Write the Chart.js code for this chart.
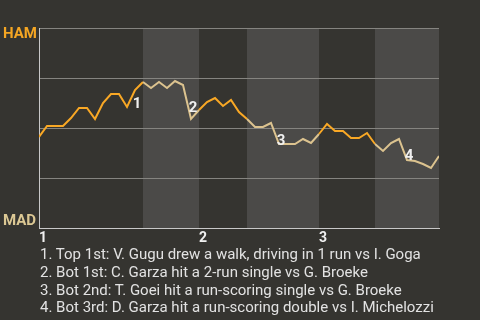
<!DOCTYPE html>
<html>
<head>
<meta charset="utf-8">
<script src="https://cdn.jsdelivr.net/npm/chart.js@4"></script>
<style>
  html, body { margin: 0; padding: 0; background: #353430; }
  #wrap { position: relative; width: 480px; height: 320px; overflow: hidden; font-family: Roboto, sans-serif; }
  canvas { position: absolute; left: 0; top: 0; }
  .team { position: absolute; left: 3px; font-weight: bold; font-size: 15px; line-height: 16px; }
  #ham { top: 25px; color: #f5a623; }
  #mad { top: 212px; color: #dcc894; }
  #notes { position: absolute; left: 40px; top: 246px; font-size: 15px; line-height: 17.8px; color: #e2e2e2; white-space: nowrap; }
</style>
</head>
<body>
<div id="wrap">
  <canvas id="wp" width="480" height="320"></canvas>
  <div class="team" id="ham">HAM</div>
  <div class="team" id="mad">MAD</div>
  <div id="notes"></div>
</div>
<script>
// innings and where each one starts (plate appearance index)
const innings = ['1', '2', '3'];
const inningStarts = [0, 20, 35];
// half-inning boundaries: top 1st, bot 1st, top 2nd, bot 2nd, top 3rd, bot 3rd, end
const halfStarts = [0, 13, 20, 26, 35, 42, 50];

// HAM win probability after each plate appearance
const winProb = [
  0.455, 0.51, 0.51, 0.51, 0.55, 0.60, 0.60, 0.545, 0.625, 0.67,
  0.67, 0.605, 0.69, 0.73, 0.70, 0.73, 0.70, 0.735, 0.715, 0.545,
  0.59, 0.63, 0.65, 0.61, 0.64, 0.58, 0.545, 0.505, 0.505, 0.525,
  0.42, 0.42, 0.42, 0.445, 0.425, 0.47, 0.52, 0.485, 0.485, 0.45,
  0.45, 0.475, 0.42, 0.385, 0.425, 0.445, 0.34, 0.335, 0.32, 0.30,
  0.36
];

// key plays
const eventIdx = [12, 19, 30, 46];
const eventNotes = [
  '1. Top 1st: V. Gugu drew a walk, driving in 1 run vs I. Goga',
  '2. Bot 1st: C. Garza hit a 2-run single vs G. Broeke',
  '3. Bot 2nd: T. Goei hit a run-scoring single vs G. Broeke',
  '4. Bot 3rd: D. Garza hit a run-scoring double vs I. Michelozzi'
];

const orange = '#f9a825';
const tan = '#dcc38f';
const bandColor = '#4b4a48';

document.getElementById('notes').innerHTML = eventNotes.map(t => `<div>${t}</div>`).join('');

function isBottomHalf(x) {
  for (let i = 1; i < halfStarts.length - 1; i += 2) {
    if (x >= halfStarts[i] && x < halfStarts[i + 1]) return true;
  }
  return false;
}

// shade the bottom halves
const halfBands = {
  id: 'halfBands',
  beforeDraw(chart) {
    const { ctx, chartArea, scales: { x } } = chart;
    ctx.save();
    ctx.fillStyle = bandColor;
    for (let i = 1; i < halfStarts.length - 1; i += 2) {
      const x0 = x.getPixelForValue(halfStarts[i]);
      const x1 = x.getPixelForValue(halfStarts[i + 1]);
      ctx.fillRect(x0, chartArea.top, x1 - x0, chartArea.bottom - chartArea.top);
    }
    ctx.restore();
  }
};

// numbered markers on the key plays
const labelOffsets = [[2, 14], [2, -11], [2, -3], [2, -4]];
const eventMarkers = {
  id: 'eventMarkers',
  afterDatasetsDraw(chart) {
    const { ctx } = chart;
    const pts = chart.getDatasetMeta(0).data;
    ctx.save();
    ctx.font = 'bold 15px Roboto';
    ctx.fillStyle = '#f0f0f0';
    ctx.textAlign = 'center';
    ctx.textBaseline = 'middle';
    eventIdx.forEach((idx, n) => {
      const p = pts[idx];
      ctx.fillText(String(n + 1), p.x + labelOffsets[n][0], p.y + labelOffsets[n][1]);
    });
    ctx.restore();
  }
};

new Chart(document.getElementById('wp').getContext('2d'), {
  type: 'line',
  data: {
    datasets: [{
      data: winProb.map((y, i) => ({ x: i, y })),
      borderWidth: 2,
      borderColor: orange,
      pointRadius: 0,
      tension: 0,
      segment: {
        borderColor: c => isBottomHalf(c.p0.parsed.x) ? tan : orange
      }
    }]
  },
  options: {
    responsive: false,
    animation: false,
    layout: { padding: { top: 28, right: 41, left: 0, bottom: 0 } },
    plugins: {
      legend: { display: false },
      tooltip: { enabled: false }
    },
    scales: {
      x: {
        type: 'linear',
        min: 0,
        max: halfStarts[halfStarts.length - 1],
        afterBuildTicks: s => { s.ticks = inningStarts.map(v => ({ value: v })); },
        afterFit: s => { s.height = 92; },
        grid: { display: false },
        border: { color: '#c8c8c8', width: 1 },
        ticks: {
          autoSkip: false,
          maxRotation: 0,
          align: 'start',
          padding: -6,
          color: '#f0f0f0',
          font: { family: 'Roboto', weight: 'bold', size: 14 },
          callback: (v, i) => innings[i]
        }
      },
      y: {
        min: 0,
        max: 1,
        afterFit: s => { s.width = 39; },
        grid: { color: '#858480', drawTicks: false },
        border: { color: '#c8c8c8', width: 1 },
        ticks: { display: false, stepSize: 0.25 }
      }
    }
  },
  plugins: [halfBands, eventMarkers]
});
</script>
</body>
</html>
